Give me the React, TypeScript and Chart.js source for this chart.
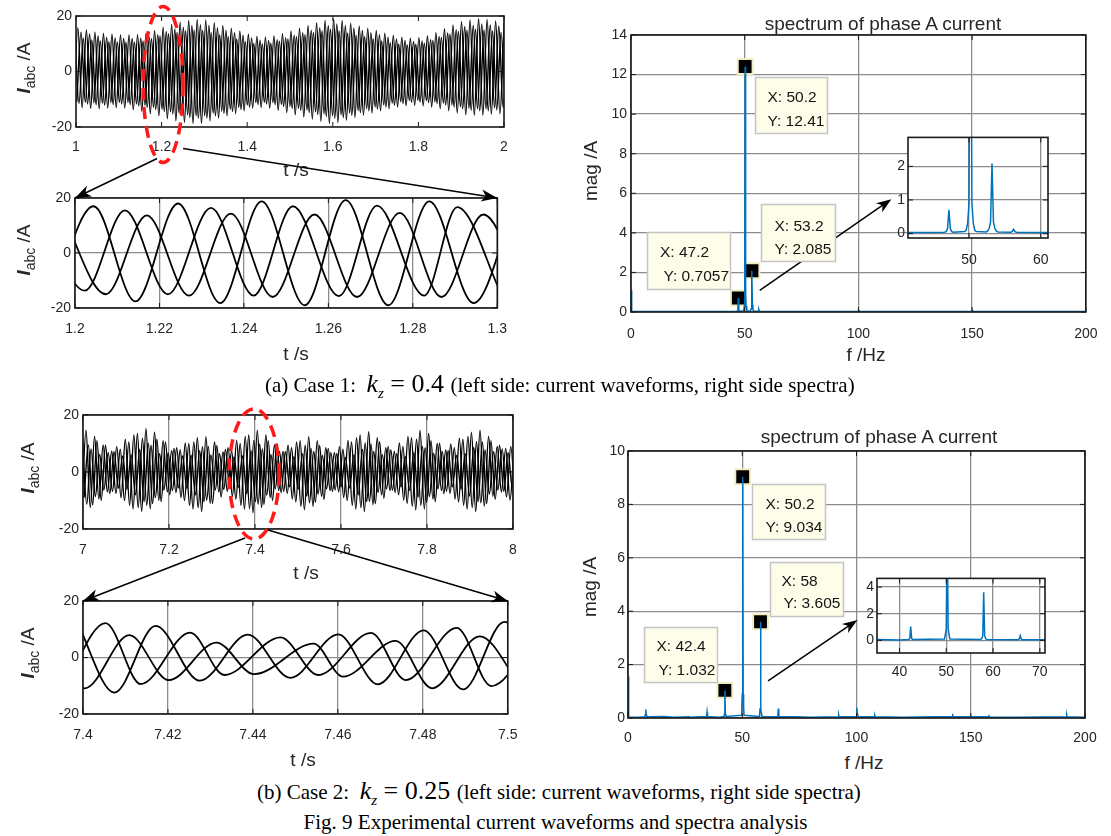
import React, { useEffect, useRef, useState } from 'react';
import { Chart, registerables } from 'chart.js';

Chart.register(...registerables);

// ======================= DATA =======================
// sample spacing of the phase-current extrema (one 50.2 Hz cycle)
const cyclePeriod = 0.01992;

// tick values
const case1WaveTicks = [1, 1.2, 1.4, 1.6, 1.8, 2];
const case1ZoomTicks = [1.2, 1.22, 1.24, 1.26, 1.28, 1.3];
const case2WaveTicks = [7, 7.2, 7.4, 7.6, 7.8, 8];
const case2ZoomTicks = [7.4, 7.42, 7.44, 7.46, 7.48, 7.5];
const currentTicks = [-20, 0, 20];
const freqTicks = [0, 50, 100, 150, 200];
const case1MagTicks = [0, 2, 4, 6, 8, 10, 12, 14];
const case2MagTicks = [0, 2, 4, 6, 8, 10];
const case1InsetFreqTicks = [50, 60];
const case1InsetMagTicks = [0, 1, 2];
const case2InsetFreqTicks = [40, 50, 60, 70];
const case2InsetMagTicks = [0, 2, 4];

// axis limits of the insets
const case1InsetFreqRange = [41.5, 61.0];
const case1InsetMagRange = [-0.13, 2.86];
const case2InsetFreqRange = [35.2, 71.1];
const case2InsetMagRange = [-0.95, 4.65];

// ---- Case 1 (kz = 0.4), 1 s .. 2 s : per-cycle extrema of the three phases
const case1PhaseStart = [0.9944, 1.0018, 0.9971];
const case1PhasePeakFirst = [false, false, true];
const case1PeaksA = [15.8,15.0,14.2,13.7,13.4,13.2,13.2,13.3,13.8,14.8,16.0,17.0,17.8,18.4,18.8,18.6,17.6,16.6,15.6,14.6,13.4,12.6,12.4,12.8,13.6,14.6,15.6,16.6,17.6,18.4,19.0,18.4,17.4,16.4,15.6,14.8,13.8,13.0,12.4,12.0,12.2,12.8,14.0,15.4,16.8,18.0,18.6,19.0,18.8,18.2,17.6];
const case1TroughsA = [-12.8,-13.0,-13.3,-13.4,-13.2,-13.0,-13.2,-13.8,-14.3,-15.2,-16.0,-17.0,-17.8,-18.4,-18.8,-18.7,-17.8,-16.8,-16.0,-15.2,-14.2,-13.2,-13.0,-13.2,-14.0,-14.8,-15.6,-16.4,-17.2,-18.0,-18.8,-18.4,-17.6,-16.6,-15.8,-15.0,-14.2,-13.4,-12.8,-12.3,-12.2,-12.4,-12.8,-13.4,-14.2,-15.0,-15.6,-15.8,-15.8,-15.4,-15.2];
const case1PeaksB = [14.2,13.5,12.8,12.3,12.1,11.9,11.9,12.0,12.4,13.3,14.4,15.3,16.0,16.6,16.9,16.7,15.8,14.9,14.0,13.1,12.1,11.3,11.2,11.5,12.2,13.1,14.0,14.9,15.8,16.6,17.1,16.6,15.7,14.8,14.0,13.3,12.4,11.7,11.2,10.8,11.0,11.5,12.6,13.9,15.1,16.2,16.7,17.1,16.9,16.4,15.8];
const case1TroughsB = [-10.9,-11.1,-11.3,-11.4,-11.2,-11.1,-11.2,-11.7,-12.2,-12.9,-13.6,-14.5,-15.1,-15.6,-16.0,-15.9,-15.1,-14.3,-13.6,-12.9,-12.1,-11.2,-11.1,-11.2,-11.9,-12.6,-13.3,-13.9,-14.6,-15.3,-16.0,-15.6,-15.0,-14.1,-13.4,-12.8,-12.1,-11.4,-10.9,-10.5,-10.4,-10.5,-10.9,-11.4,-12.1,-12.8,-13.3,-13.4,-13.4,-13.1,-12.9];
const case1PeaksC = [12.6,12.0,11.4,11.0,10.7,10.6,10.6,10.6,11.0,11.8,12.8,13.6,14.2,14.7,15.0,14.9,14.1,13.3,12.5,11.7,10.7,10.1,9.9,10.2,10.9,11.7,12.5,13.3,14.1,14.7,15.2,14.7,13.9,13.1,12.5,11.8,11.0,10.4,9.9,9.6,9.8,10.2,11.2,12.3,13.4,14.4,14.9,15.2,15.0,14.6,14.1];
const case1TroughsC = [-11.5,-11.7,-12.0,-12.1,-11.9,-11.7,-11.9,-12.4,-12.9,-13.7,-14.4,-15.3,-16.0,-16.6,-16.9,-16.8,-16.0,-15.1,-14.4,-13.7,-12.8,-11.9,-11.7,-11.9,-12.6,-13.3,-14.0,-14.8,-15.5,-16.2,-16.9,-16.6,-15.8,-14.9,-14.2,-13.5,-12.8,-12.1,-11.5,-11.1,-11.0,-11.2,-11.5,-12.1,-12.8,-13.5,-14.0,-14.2,-14.2,-13.9,-13.7];

// ---- Case 1 zoom 1.2 .. 1.3 s : [t, i] extrema
const case1ZoomA = [[1.1944,-17],[1.2044,17],[1.2143,-17.6],[1.2244,18],[1.2344,-18.2],[1.2442,18.8],[1.2544,-19],[1.2641,19.2],[1.2742,-19],[1.2839,18.8],[1.2944,-18.2],[1.3042,18]];
const case1ZoomB = [[1.192,15],[1.2023,-13.7],[1.2118,15.5],[1.222,-15],[1.2322,16.4],[1.2423,-15.5],[1.2516,17],[1.2625,-15.7],[1.2715,17.2],[1.2827,-15.5],[1.2905,16.7],[1.301,-15]];
const case1ZoomC = [[1.197,14],[1.2073,-15],[1.217,13.7],[1.227,-15.5],[1.2369,14.3],[1.2468,-16],[1.2567,14],[1.2668,-16],[1.2769,14.6],[1.2868,-16],[1.2967,14],[1.3067,-16]];

// ---- Case 2 (kz = 0.25), 7 s .. 8 s
const case2PhaseStart = [6.997, 7.0025, 6.9988];
const case2PhasePeakFirst = [false, false, true];
const case2PeaksA = [14.7,12.5,9.5,7.3,8.0,10.5,13.5,15.3,14.0,11.0,7.5,7.8,10.0,12.0,12.4,10.5,7.0,7.5,10.0,13.0,14.7,13.0,9.5,7.2,8.5,11.0,12.4,11.0,8.5,6.8,8.0,10.5,13.0,14.1,12.0,8.5,7.2,9.0,12.0,14.7,13.5,10.0,7.7,8.5,11.5,14.0,14.7,12.5,9.0,8.3,9.5];
const case2TroughsA = [-14.5,-12.5,-9.5,-7.0,-7.5,-10.0,-13.0,-13.9,-13.0,-10.0,-7.0,-7.2,-10.0,-13.0,-13.9,-11.0,-7.0,-6.8,-9.5,-13.0,-14.3,-12.5,-9.0,-6.5,-7.5,-10.5,-13.3,-12.0,-8.5,-6.5,-7.0,-10.0,-13.0,-13.9,-11.5,-8.0,-6.5,-8.0,-11.0,-13.3,-13.0,-9.5,-6.5,-7.5,-10.5,-13.0,-13.9,-12.0,-8.5,-7.0,-9.8];
const case2PeaksB = [9.5,11.0,9.4,7.1,5.5,6.0,7.9,10.1,11.5,10.5,8.3,5.6,5.9,7.5,9.0,9.3,7.9,5.3,5.6,7.5,9.8,11.0,9.8,7.1,5.4,6.4,8.3,9.3,8.3,6.4,5.1,6.0,7.9,9.8,10.6,9.0,6.4,5.4,6.8,9.0,11.0,10.1,7.5,5.8,6.4,8.6,10.5,11.0,9.4,6.8,6.2];
const case2TroughsB = [-9.0,-11.6,-10.0,-7.6,-5.6,-6.0,-8.0,-10.4,-11.1,-10.4,-8.0,-5.6,-5.8,-8.0,-10.4,-11.1,-8.8,-5.6,-5.4,-7.6,-10.4,-11.4,-10.0,-7.2,-5.2,-6.0,-8.4,-10.6,-9.6,-6.8,-5.2,-5.6,-8.0,-10.4,-11.1,-9.2,-6.4,-5.2,-6.4,-8.8,-10.6,-10.4,-7.6,-5.2,-6.0,-8.4,-10.4,-11.1,-9.6,-6.8,-5.6];
const case2PeaksC = [10.6,8.1,6.2,6.8,8.9,11.5,13.0,11.9,9.4,6.4,6.6,8.5,10.2,10.5,8.9,6.0,6.4,8.5,11.1,12.5,11.1,8.1,6.1,7.2,9.4,10.5,9.4,7.2,5.8,6.8,8.9,11.1,12.0,10.2,7.2,6.1,7.7,10.2,12.5,11.5,8.5,6.5,7.2,9.8,11.9,12.5,10.6,7.7,7.1,8.1,9.0];
const case2TroughsC = [-11.3,-8.6,-6.3,-6.8,-9.0,-11.7,-12.5,-11.7,-9.0,-6.3,-6.5,-9.0,-11.7,-12.5,-9.9,-6.3,-6.1,-8.6,-11.7,-12.9,-11.3,-8.1,-5.9,-6.8,-9.5,-12.0,-10.8,-7.7,-5.9,-6.3,-9.0,-11.7,-12.5,-10.4,-7.2,-5.9,-7.2,-9.9,-12.0,-11.7,-8.6,-5.9,-6.8,-9.5,-11.7,-12.5,-10.8,-7.7,-6.3,-8.8,-10.5];

// ---- Case 2 zoom 7.4 .. 7.5 s
const case2ZoomA = [[7.3953,-11],[7.4053,12.2],[7.4136,-9.4],[7.4252,8.8],[7.4333,-6.2],[7.4465,7.1],[7.4554,-6.2],[7.4678,8.7],[7.476,-8],[7.488,10.5],[7.4961,-10.1],[7.508,12]];
const case2ZoomB = [[7.3905,8],[7.4004,-10.9],[7.4109,7.9],[7.4202,-8],[7.4314,5.3],[7.4403,-5.9],[7.4543,4.9],[7.4612,-6.8],[7.4736,5.9],[7.4822,-10.9],[7.4934,7.5],[7.503,-10]];
const case2ZoomC = [[7.3985,12.8],[7.4074,-12.4],[7.4171,11.2],[7.4275,-8.2],[7.4388,8.1],[7.4488,-7.2],[7.4601,8.2],[7.4694,-9.5],[7.4802,9.6],[7.4895,-11.3],[7.4992,12.6],[7.5095,-11]];

// ---- spectra of phase A current : [f (Hz), magnitude (A)]
const case1Spectrum = [[0,1.1],[0.2,0.12],[0.4,0.04],[10,0.03],[30,0.03],[44,0.03],[46.6,0.04],[46.8,0.06],[47.0,0.14],[47.2,0.7057],[47.4,0.14],[47.6,0.06],[47.8,0.04],[49.4,0.06],[49.6,0.1],[49.8,0.3],[50.0,0.9],[50.2,12.41],[50.4,0.9],[50.6,0.3],[50.8,0.1],[51.0,0.06],[52.4,0.05],[52.6,0.08],[52.8,0.15],[53.0,0.35],[53.2,2.085],[53.4,0.35],[53.6,0.15],[53.8,0.08],[54.0,0.05],[55.8,0.04],[56.0,0.06],[56.2,0.13],[56.4,0.06],[56.6,0.04],[60,0.03],[80,0.03],[99.8,0.04],[100.0,0.06],[100.2,0.08],[100.4,0.06],[100.6,0.04],[130,0.03],[149.8,0.04],[150.0,0.05],[150.2,0.07],[150.4,0.05],[150.6,0.04],[200,0.03]];
const case2Spectrum = [[0,1.55],[0.2,0.15],[0.4,0.04],[5,0.03],[7.4,0.05],[7.6,0.12],[7.8,0.32],[8.0,0.12],[8.2,0.05],[15.6,0.06],[20,0.03],[26.8,0.05],[27,0.03],[34.4,0.06],[34.6,0.22],[34.8,0.06],[40,0.03],[42.0,0.06],[42.2,0.15],[42.4,1.032],[42.6,0.15],[42.8,0.06],[49.6,0.1],[49.8,0.4],[50.0,0.9],[50.2,9.034],[50.4,0.9],[50.6,0.4],[50.8,0.1],[57.4,0.06],[57.6,0.15],[57.8,0.35],[58.0,3.605],[58.2,0.35],[58.4,0.15],[58.6,0.06],[65.4,0.05],[65.6,0.12],[65.8,0.35],[66.0,0.12],[66.2,0.05],[73.6,0.05],[80,0.03],[92.0,0.05],[92.2,0.12],[92.4,0.05],[99.8,0.06],[100.0,0.15],[100.2,0.38],[100.4,0.15],[100.6,0.06],[107.8,0.05],[108.0,0.1],[108.2,0.05],[120,0.03],[134,0.05],[141.8,0.06],[142.0,0.16],[142.2,0.06],[149.8,0.05],[150.0,0.08],[150.2,0.05],[157.8,0.05],[158.0,0.08],[158.2,0.04],[170,0.03],[191.8,0.05],[192.0,0.12],[192.2,0.05],[200,0.03]];

// data tips
const case1TipFreq = [50.2, 53.2, 47.2];
const case1TipMag = [12.41, 2.085, 0.7057];
const case2TipFreq = [50.2, 58, 42.4];
const case2TipMag = [9.034, 3.605, 1.032];

// zoom-arrow end points in data units [f, mag]
const case1ArrowPts = [[56.6, 1.09], [114.5, 5.7]];
const case2ArrowPts = [[61.3, 1.39], [100.4, 3.67]];

// ======================= STYLE / LAYOUT =======================
const SANS = '"Liberation Sans", Arial, Helvetica, sans-serif';
const SERIF = '"Liberation Serif", "Times New Roman", Times, serif';
const TICK_COLOR = '#262626';
const GRID_COLOR = '#8c8c8c';
const BLUE = '#0072BD';

Chart.defaults.font.family = SANS;

const PANELS = {
  c1Wave: { box: { left: 0, top: 0, width: 520, height: 160 }, area: { l: 76, t: 16, r: 504, b: 127 }, xPad: 12, yPad: 4, grid: false },
  c1Zoom: { box: { left: 0, top: 185, width: 520, height: 165 }, area: { l: 75, t: 198, r: 504, b: 308 }, xPad: 13, yPad: 4, grid: true },
  c2Wave: { box: { left: 0, top: 400, width: 530, height: 160 }, area: { l: 83, t: 415, r: 513, b: 529 }, xPad: 12.5, yPad: 4, grid: true },
  c2Zoom: { box: { left: 0, top: 586, width: 530, height: 160 }, area: { l: 83, t: 601, r: 513, b: 714 }, xPad: 12.5, yPad: 4, grid: true },
  c1Spec: { box: { left: 575, top: 20, width: 536, height: 325 }, area: { l: 631, t: 35, r: 1090, b: 312 }, xPad: 13.5, yPad: 4, grid: true },
  c2Spec: { box: { left: 575, top: 436, width: 536, height: 310 }, area: { l: 628, t: 451, r: 1085, b: 718 }, xPad: 11.5, yPad: 3, grid: true },
  c1Inset: { box: { left: 880, top: 126, width: 185, height: 150 }, area: { l: 908, t: 136, r: 1048, b: 238 }, xPad: 13.5, yPad: 3, grid: true, fill: true },
  c2Inset: { box: { left: 850, top: 567, width: 210, height: 120 }, area: { l: 877, t: 578, r: 1045, b: 653 }, xPad: 11, yPad: 3, grid: true, fill: true },
};
const PANEL_ORDER = ['c1Wave', 'c1Zoom', 'c2Wave', 'c2Zoom', 'c1Spec', 'c2Spec', 'c1Inset', 'c2Inset'];

const case1TipLayout = [
  { dx: 10, dy: 11, w: 72, h: 56, tx: [12, 12], ty: [20.5, 44.5] },
  { dx: 9, dy: -67, w: 74, h: 57, tx: [13, 13], ty: [22, 45] },
  { dx: -91, dy: -66, w: 83, h: 57, tx: [12.5, 16], ty: [20.5, 44.5] },
];
const case2TipLayout = [
  { dx: 9, dy: 7.5, w: 73, h: 55, tx: [13, 13], ty: [20, 43] },
  { dx: 9, dy: -60, w: 73, h: 54, tx: [11, 13], ty: [19, 41] },
  { dx: -81, dy: -63.5, w: 73, h: 55, tx: [12, 14], ty: [19.5, 43] },
];

// ======================= HELPERS =======================
const fmt = (v: any) => String(Math.round(Number(v) * 1000) / 1000);

function extremaSeries(start: number, peakFirst: boolean, peaks: number[], troughs: number[]) {
  const pts: { x: number; y: number }[] = [];
  for (let k = 0; k < peaks.length; k++) {
    const t = start + k * cyclePeriod;
    const first = peakFirst ? peaks[k] : troughs[k];
    const second = peakFirst ? troughs[k] : peaks[k];
    pts.push({ x: t, y: first });
    pts.push({ x: t + cyclePeriod / 2, y: second });
  }
  return pts;
}
const pairs = (arr: number[][]) => arr.map(([x, y]) => ({ x, y }));

function waveDs(points: any[], width: number) {
  return { data: points, borderColor: '#000', borderWidth: width, pointRadius: 0, cubicInterpolationMode: 'monotone', fill: false };
}
function specDs(arr: number[][]) {
  return { data: pairs(arr), borderColor: BLUE, borderWidth: 1.5, pointRadius: 0, tension: 0, fill: false };
}
function markerDs(freq: number[], mag: number[]) {
  return {
    data: freq.map((f, i) => ({ x: f, y: mag[i] })),
    showLine: false, pointStyle: 'rect', pointRadius: 10.5,
    backgroundColor: '#000', borderColor: '#f1ecc2', borderWidth: 2,
  };
}

function makeScale(axis: 'x' | 'y', range: number[], ticks: number[], size: number, pad: number, grid: boolean) {
  return {
    type: 'linear',
    min: range[0],
    max: range[1],
    afterBuildTicks: (s: any) => { s.ticks = ticks.map((v) => ({ value: v })); },
    afterFit: (s: any) => { if (axis === 'x') s.height = size; else s.width = size; },
    grid: { display: grid, color: GRID_COLOR, lineWidth: 1.3, drawTicks: false },
    border: { display: false },
    ticks: { padding: pad, color: TICK_COLOR, font: { family: SANS, size: 14 }, maxRotation: 0, autoSkip: false, callback: fmt },
  };
}

const framePlugin = {
  id: 'frame',
  beforeDraw(chart: any, _a: any, opts: any) {
    if (!opts || !opts.fill) return;
    const { ctx, chartArea: a } = chart;
    ctx.save();
    ctx.fillStyle = '#ffffff';
    ctx.fillRect(a.left, a.top, a.right - a.left, a.bottom - a.top);
    ctx.restore();
  },
  afterDraw(chart: any) {
    const { ctx, chartArea: a, scales } = chart;
    ctx.save();
    ctx.strokeStyle = '#1a1a1a';
    ctx.lineWidth = 1;
    const tl = 5;
    ctx.beginPath();
    scales.x.ticks.forEach((t: any) => {
      const p = scales.x.getPixelForValue(t.value);
      ctx.moveTo(p, a.bottom); ctx.lineTo(p, a.bottom - tl);
      ctx.moveTo(p, a.top); ctx.lineTo(p, a.top + tl);
    });
    scales.y.ticks.forEach((t: any) => {
      const p = scales.y.getPixelForValue(t.value);
      ctx.moveTo(a.left, p); ctx.lineTo(a.left + tl, p);
      ctx.moveTo(a.right, p); ctx.lineTo(a.right - tl, p);
    });
    ctx.stroke();
    ctx.lineWidth = 1.6;
    ctx.strokeRect(a.left, a.top, a.right - a.left, a.bottom - a.top);
    ctx.restore();
  },
};

function drawArrow(ctx: any, x1: number, y1: number, x2: number, y2: number) {
  const ang = Math.atan2(y2 - y1, x2 - x1);
  const len = 15, half = 5.5;
  const c = Math.cos(ang), s = Math.sin(ang);
  ctx.beginPath();
  ctx.moveTo(x1, y1);
  ctx.lineTo(x2 - c * len * 0.7, y2 - s * len * 0.7);
  ctx.stroke();
  ctx.beginPath();
  ctx.moveTo(x2, y2);
  ctx.lineTo(x2 - c * len - s * half, y2 - s * len + c * half);
  ctx.lineTo(x2 - c * len * 0.72, y2 - s * len * 0.72);
  ctx.lineTo(x2 - c * len + s * half, y2 - s * len - c * half);
  ctx.closePath();
  ctx.fill();
}

const tipPlugin = {
  id: 'tips',
  afterDraw(chart: any, _a: any, opts: any) {
    if (!opts || !opts.freq) return;
    const { ctx, scales } = chart;
    ctx.save();
    if (opts.arrow) {
      const [[f1, m1], [f2, m2]] = opts.arrow;
      ctx.strokeStyle = '#000';
      ctx.fillStyle = '#000';
      ctx.lineWidth = 1.5;
      drawArrow(ctx, scales.x.getPixelForValue(f1), scales.y.getPixelForValue(m1), scales.x.getPixelForValue(f2), scales.y.getPixelForValue(m2));
    }
    opts.freq.forEach((f: number, i: number) => {
      const L = opts.layout[i];
      const px = scales.x.getPixelForValue(f);
      const py = scales.y.getPixelForValue(opts.mag[i]);
      const bx = Math.round(px + L.dx) + 0.5;
      const by = Math.round(py + L.dy) + 0.5;
      ctx.fillStyle = '#fdfde9';
      ctx.fillRect(bx, by, L.w, L.h);
      ctx.strokeStyle = '#c4c4c4';
      ctx.lineWidth = 1.5;
      ctx.strokeRect(bx, by, L.w, L.h);
      ctx.fillStyle = '#141414';
      ctx.font = `15.5px ${SANS}`;
      ctx.textAlign = 'left';
      ctx.textBaseline = 'middle';
      ctx.fillText(`X: ${f}`, bx + L.tx[0], by + L.ty[0]);
      ctx.fillText(`Y: ${opts.mag[i]}`, bx + L.tx[1], by + L.ty[1]);
    });
    ctx.restore();
  },
};

function buildConfigs() {
  const c1Dense = [0, 1, 2].map((p) => extremaSeries(case1PhaseStart[p], case1PhasePeakFirst[p],
    [case1PeaksA, case1PeaksB, case1PeaksC][p], [case1TroughsA, case1TroughsB, case1TroughsC][p]));
  const c2Dense = [0, 1, 2].map((p) => extremaSeries(case2PhaseStart[p], case2PhasePeakFirst[p],
    [case2PeaksA, case2PeaksB, case2PeaksC][p], [case2TroughsA, case2TroughsB, case2TroughsC][p]));
  return {
    c1Wave: { datasets: c1Dense.map((d) => waveDs(d, 1.4)), x: [1, 2], xt: case1WaveTicks, y: [-20, 20], yt: currentTicks },
    c1Zoom: { datasets: [case1ZoomA, case1ZoomB, case1ZoomC].map((d) => waveDs(pairs(d), 1.8)), x: [1.2, 1.3], xt: case1ZoomTicks, y: [-20, 20], yt: currentTicks },
    c2Wave: { datasets: c2Dense.map((d) => waveDs(d, 1.4)), x: [7, 8], xt: case2WaveTicks, y: [-20, 20], yt: currentTicks },
    c2Zoom: { datasets: [case2ZoomA, case2ZoomB, case2ZoomC].map((d) => waveDs(pairs(d), 1.8)), x: [7.4, 7.5], xt: case2ZoomTicks, y: [-20, 20], yt: currentTicks },
    c1Spec: { datasets: [specDs(case1Spectrum), markerDs(case1TipFreq, case1TipMag)], x: [0, 200], xt: freqTicks, y: [0, 14], yt: case1MagTicks,
      tips: { freq: case1TipFreq, mag: case1TipMag, layout: case1TipLayout, arrow: case1ArrowPts } },
    c2Spec: { datasets: [specDs(case2Spectrum), markerDs(case2TipFreq, case2TipMag)], x: [0, 200], xt: freqTicks, y: [0, 10], yt: case2MagTicks,
      tips: { freq: case2TipFreq, mag: case2TipMag, layout: case2TipLayout, arrow: case2ArrowPts } },
    c1Inset: { datasets: [specDs(case1Spectrum)], x: case1InsetFreqRange, xt: case1InsetFreqTicks, y: case1InsetMagRange, yt: case1InsetMagTicks },
    c2Inset: { datasets: [specDs(case2Spectrum)], x: case2InsetFreqRange, xt: case2InsetFreqTicks, y: case2InsetMagRange, yt: case2InsetMagTicks },
  } as any;
}

function createChart(canvas: HTMLCanvasElement, panel: any, cfg: any) {
  const { box, area } = panel;
  const yW = area.l - box.left;
  const padTop = area.t - box.top;
  const padRight = box.left + box.width - area.r;
  const xH = box.top + box.height - area.b;
  return new Chart(canvas, {
    type: 'line',
    data: { datasets: cfg.datasets },
    options: {
      responsive: false,
      animation: false,
      events: [],
      layout: { padding: { left: 0, top: padTop, right: padRight, bottom: 0 } },
      scales: {
        x: makeScale('x', cfg.x, cfg.xt, xH, panel.xPad, panel.grid),
        y: makeScale('y', cfg.y, cfg.yt, yW, panel.yPad, panel.grid),
      },
      plugins: {
        legend: { display: false },
        tooltip: { enabled: false },
        title: { display: false },
        frame: { fill: !!panel.fill },
        tips: cfg.tips || {},
      },
    } as any,
    plugins: [framePlugin, tipPlugin] as any,
  });
}

function headPoints(x1: number, y1: number, x2: number, y2: number) {
  const ang = Math.atan2(y2 - y1, x2 - x1);
  const c = Math.cos(ang), s = Math.sin(ang);
  const len = 16, half = 6;
  return [
    [x2, y2],
    [x2 - c * len - s * half, y2 - s * len + c * half],
    [x2 - c * len * 0.72, y2 - s * len * 0.72],
    [x2 - c * len + s * half, y2 - s * len - c * half],
  ].map((p) => p.join(',')).join(' ');
}

// ======================= TEXT COMPONENTS =======================
function Txt({ x, y, children, size = 19, rotate = false, family = SANS }: any) {
  return (
    <div style={{
      position: 'absolute', left: x, top: y, whiteSpace: 'nowrap', fontFamily: family, fontSize: size,
      lineHeight: '22px', color: '#262626',
      transform: rotate ? 'translate(-50%, -50%) rotate(-90deg)' : 'translate(-50%, -50%)',
    }}>{children}</div>
  );
}
function IabcLabel({ x, y }: any) {
  return (
    <Txt x={x} y={y} rotate>
      <span style={{ fontWeight: 'bold', fontStyle: 'italic' }}>I</span>
      <span style={{ fontSize: 14, position: 'relative', top: 5 }}>abc</span>
      <span>{'\u00a0/A'}</span>
    </Txt>
  );
}
function Caption({ x, y, label, kz }: any) {
  return (
    <div style={{ position: 'absolute', left: x, top: y, fontFamily: SERIF, fontSize: 21, lineHeight: '30px', whiteSpace: 'pre', color: '#000' }}>
      {label}{'  '}
      <span style={{ fontStyle: 'italic', fontSize: 26 }}>k</span>
      <span style={{ fontStyle: 'italic', fontSize: 15, position: 'relative', top: 6 }}>z</span>
      <span style={{ fontSize: 26 }}>{` = ${kz} `}</span>
      (left side: current waveforms, right side spectra)
    </div>
  );
}

// ======================= APP =======================
export default function App() {
  const canvasRefs = useRef<Record<string, HTMLCanvasElement | null>>({});
  const [geo, setGeo] = useState<any>(null);

  useEffect(() => {
    const cfgs = buildConfigs();
    const charts: Record<string, any> = {};
    PANEL_ORDER.forEach((k) => {
      const el = canvasRefs.current[k];
      if (el) charts[k] = createChart(el, (PANELS as any)[k], cfgs[k]);
    });

    const page = (k: string, xv: number, yv: number) => {
      const p = (PANELS as any)[k].box;
      return [p.left + charts[k].scales.x.getPixelForValue(xv), p.top + charts[k].scales.y.getPixelForValue(yv)];
    };
    const corner = (k: string, side: 'left' | 'right') => {
      const p = (PANELS as any)[k].box;
      const a = charts[k].chartArea;
      return [p.left + a[side], p.top + a.top];
    };
    const [e1x, e1y] = page('c1Wave', case1ZoomTicks[0], 0);
    const [e2x, e2y] = page('c2Wave', case2ZoomTicks[0], 0);
    const g = {
      ell1: { cx: e1x + 1.5, cy: e1y + 13, rx: 20, ry: 78 },
      ell2: { cx: e2x - 1, cy: e2y + 2, rx: 25, ry: 65 },
      lines: [
        [e1x - 4.5, e1y + 87, ...corner('c1Zoom', 'left')],
        [e1x + 21.5, e1y + 77, ...corner('c1Zoom', 'right')],
        [e2x - 10, e2y + 66, ...corner('c2Zoom', 'left')],
        [e2x + 13, e2y + 58, ...corner('c2Zoom', 'right')],
      ],
    };
    setGeo(g);
    return () => { Object.values(charts).forEach((c) => c.destroy()); };
  }, []);

  return (
    <div style={{ position: 'absolute', left: 0, top: 0, width: 1111, height: 836, background: '#fff', overflow: 'hidden' }}>
      {PANEL_ORDER.map((k) => {
        const b = (PANELS as any)[k].box;
        return (
          <canvas key={k} ref={(el) => { canvasRefs.current[k] = el; }} width={b.width} height={b.height}
            style={{ position: 'absolute', left: b.left, top: b.top, width: b.width, height: b.height }} />
        );
      })}

      {/* axis labels */}
      <IabcLabel x={24} y={68} />
      <IabcLabel x={24} y={250} />
      <IabcLabel x={28} y={468} />
      <IabcLabel x={28} y={653} />
      <Txt x={296} y={170}>t /s</Txt>
      <Txt x={296} y={354}>t /s</Txt>
      <Txt x={306} y={573}>t /s</Txt>
      <Txt x={303} y={760}>t /s</Txt>
      <Txt x={866} y={355}>f /Hz</Txt>
      <Txt x={864} y={763}>f /Hz</Txt>
      <Txt x={591} y={171} rotate>mag /A</Txt>
      <Txt x={590} y={587} rotate>mag /A</Txt>
      <Txt x={883} y={24}>spectrum of phase A current</Txt>
      <Txt x={879} y={437}>spectrum of phase A current</Txt>

      {/* captions */}
      <Caption x={265} y={369} label="(a) Case 1:" kz="0.4" />
      <Caption x={257} y={776} label="(b) Case 2:" kz="0.25" />
      <div style={{ position: 'absolute', left: 0, width: 1111, top: 808, textAlign: 'center', fontFamily: SERIF, fontSize: 21, lineHeight: '28px', color: '#000' }}>
        Fig. 9 Experimental current waveforms and spectra analysis
      </div>

      {/* zoom indicators */}
      {geo && (
        <svg width={1111} height={836} style={{ position: 'absolute', left: 0, top: 0, pointerEvents: 'none' }}>
          {[geo.ell1, geo.ell2].map((e: any, i: number) => (
            <ellipse key={i} cx={e.cx} cy={e.cy} rx={e.rx} ry={e.ry} fill="none" stroke="#ff1a1a" strokeWidth={3.5} strokeDasharray="12 7" />
          ))}
          {geo.lines.map((l: number[], i: number) => (
            <g key={i}>
              <line x1={l[0]} y1={l[1]} x2={l[2]} y2={l[3]} stroke="#000" strokeWidth={1.5} />
              <polygon points={headPoints(l[0], l[1], l[2], l[3])} fill="#000" />
            </g>
          ))}
        </svg>
      )}
    </div>
  );
}
